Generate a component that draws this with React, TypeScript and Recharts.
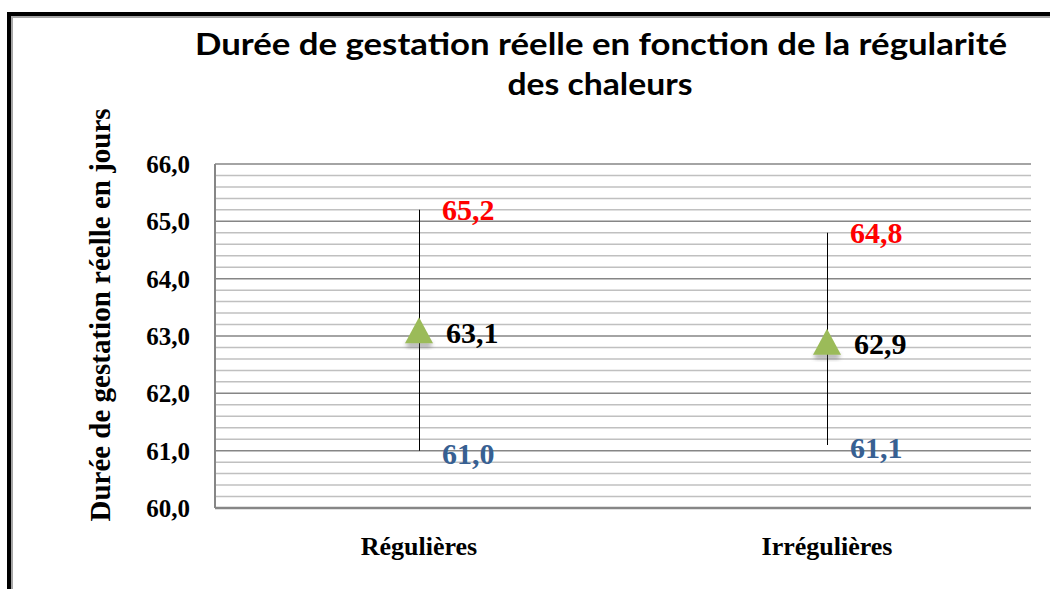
import React from "react";
import {
  ComposedChart,
  Bar,
  Line,
  XAxis,
  YAxis,
  CartesianGrid,
  LabelList,
} from "recharts";

const categories = ["Régulières", "Irrégulières"];
const meanValues = [63.1, 62.9];
const maxValues = [65.2, 64.8];
const minValues = [61.0, 61.1];

const majorTicks = [60, 61, 62, 63, 64, 65, 66];
const minorTicks = [
  60.2, 60.4, 60.6, 60.8, 61.2, 61.4, 61.6, 61.8, 62.2, 62.4, 62.6, 62.8,
  63.2, 63.4, 63.6, 63.8, 64.2, 64.4, 64.6, 64.8, 65.2, 65.4, 65.6, 65.8,
];

const SERIF = "'Liberation Serif', 'Times New Roman', serif";
const fmt = (v: number) => v.toFixed(1).replace(".", ",");

const data = categories.map((name, i) => ({
  name,
  mean: meanValues[i],
  max: maxValues[i],
  min: minValues[i],
  range: [minValues[i], maxValues[i]],
}));

// eslint-disable-next-line @typescript-eslint/no-explicit-any
const minorCoords = (props: any) => {
  const scale = props?.yAxis?.scale;
  if (!scale) return [];
  const fn = typeof scale === "function" ? scale : scale.map?.bind(scale);
  if (!fn) return [];
  return minorTicks.map((v) => fn(v));
};

// eslint-disable-next-line @typescript-eslint/no-explicit-any
const TriangleDot = (props: any) => {
  const { cx, cy, index } = props;
  if (cx == null || cy == null) return null;
  const h = 13;
  const w = 14;
  const pts = `${cx},${cy - h} ${cx + w},${cy + h} ${cx - w},${cy + h}`;
  const id = `tri-shadow-${index}`;
  return (
    <g key={`tri-${index}`}>
      <defs>
        <filter id={id} x="-50%" y="-50%" width="200%" height="200%">
          <feGaussianBlur stdDeviation="2" />
        </filter>
      </defs>
      <polygon
        points={`${cx - w + 1},${cy + h - 1} ${cx + w - 1},${cy + h - 1} ${cx + w - 2},${cy + h + 4} ${cx - w + 2},${cy + h + 4}`}
        fill="#555"
        opacity={0.5}
        filter={`url(#${id})`}
      />
      <polygon points={pts} fill="#9BBB59" />
    </g>
  );
};

const makeLabel =
  (color: string, dx: number, dy: number) =>
  // eslint-disable-next-line @typescript-eslint/no-explicit-any
  (props: any) => {
    const { x, y, value, index } = props;
    return (
      <text
        key={`lbl-${color}-${index}`}
        x={x + dx}
        y={y + dy}
        fill={color}
        fontFamily={SERIF}
        fontWeight="bold"
        fontSize={30}
        dominantBaseline="central"
      >
        {fmt(Number(value))}
      </text>
    );
  };

export default function App() {
  return (
    <div
      style={{
        position: "absolute",
        left: 0,
        top: 0,
        width: 1050,
        height: 589,
        overflow: "hidden",
        background: "#fff",
      }}
    >
      {/* chart frame, cut off on the right and bottom */}
      <div
        style={{
          position: "absolute",
          left: 7,
          top: 12,
          width: 1200,
          height: 700,
          borderLeft: "4px solid #000",
          borderTop: "4px solid #000",
        }}
      >
        <div
          style={{
            width: "100%",
            height: "100%",
            borderLeft: "2px solid #a6a6a6",
            borderTop: "2px solid #a6a6a6",
          }}
        />
      </div>

      <div style={{ position: "absolute", left: 0, top: 0 }}>
        <ComposedChart
          width={1050}
          height={589}
          data={data}
          margin={{ top: 164, right: 19, bottom: 51, left: 0 }}
        >
          <CartesianGrid
            vertical={false}
            horizontalCoordinatesGenerator={minorCoords}
            stroke="#c0c0c0"
            strokeWidth={1.5}
          />
          <CartesianGrid vertical={false} stroke="#868686" strokeWidth={1.5} />
          <XAxis
            dataKey="name"
            height={30}
            tickLine={false}
            tickSize={0}
            tickMargin={29}
            axisLine={{ stroke: "#868686", strokeWidth: 2.5 }}
            tick={{
              fill: "#000",
              fontFamily: SERIF,
              fontWeight: "bold",
              fontSize: 26,
            }}
          />
          <YAxis
            domain={[60, 66]}
            ticks={majorTicks}
            allowDataOverflow
            width={215}
            tickFormatter={fmt}
            tickLine={false}
            tickSize={0}
            tickMargin={25}
            axisLine={{ stroke: "#868686", strokeWidth: 2 }}
            tick={{
              fill: "#000",
              fontFamily: SERIF,
              fontWeight: "bold",
              fontSize: 25,
            }}
          />
          <Bar
            dataKey="range"
            barSize={1}
            fill="#000"
            isAnimationActive={false}
          />
          <Line
            dataKey="max"
            stroke="none"
            dot={false}
            activeDot={false}
            isAnimationActive={false}
          >
            <LabelList dataKey="max" content={makeLabel("#ff0000", 23, 0)} />
          </Line>
          <Line
            dataKey="min"
            stroke="none"
            dot={false}
            activeDot={false}
            isAnimationActive={false}
          >
            <LabelList dataKey="min" content={makeLabel("#376092", 23, 3)} />
          </Line>
          <Line
            dataKey="mean"
            stroke="none"
            dot={TriangleDot}
            activeDot={false}
            isAnimationActive={false}
          >
            <LabelList dataKey="mean" content={makeLabel("#000000", 27, 2)} />
          </Line>
        </ComposedChart>
      </div>

      {/* titles */}
      <svg
        width={1050}
        height={589}
        style={{ position: "absolute", left: 0, top: 0, pointerEvents: "none" }}
      >
        <text
          x={601}
          y={55}
          textAnchor="middle"
          fontFamily="Lato, 'Open Sans', sans-serif"
          fontWeight="bold"
          fontSize={31}
          fill="#000"
          textLength={812}
          lengthAdjust="spacingAndGlyphs"
        >
          Durée de gestation réelle en fonction de la régularité
        </text>
        <text
          x={600}
          y={95}
          textAnchor="middle"
          fontFamily="Lato, 'Open Sans', sans-serif"
          fontWeight="bold"
          fontSize={31}
          fill="#000"
          textLength={185}
          lengthAdjust="spacingAndGlyphs"
        >
          des chaleurs
        </text>
        <text
          transform="translate(110,315) rotate(-90)"
          textAnchor="middle"
          fontFamily={SERIF}
          fontWeight="bold"
          fontSize={29}
          fill="#000"
        >
          Durée de gestation réelle en jours
        </text>
      </svg>
    </div>
  );
}
